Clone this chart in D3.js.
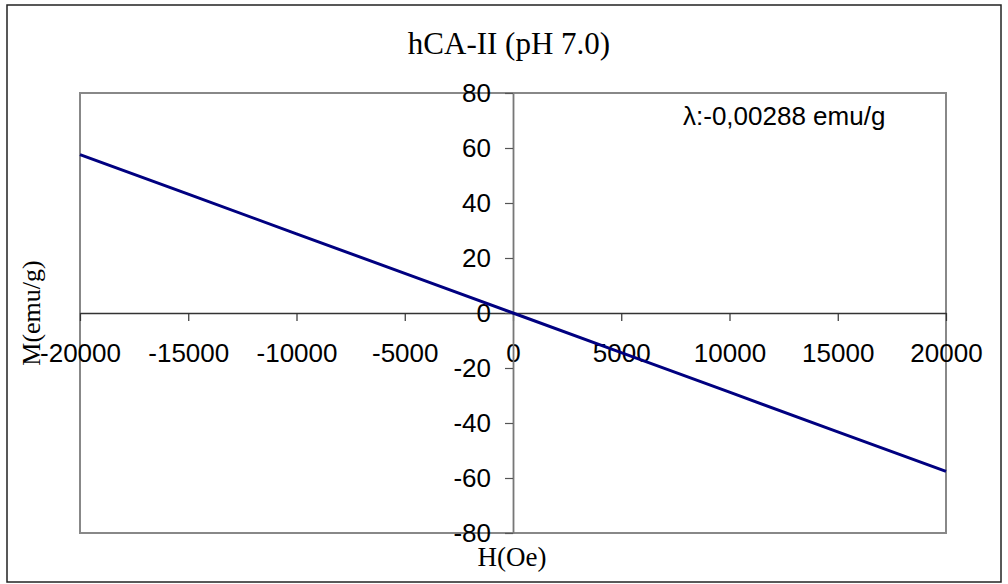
<!DOCTYPE html>
<html>
<head>
<meta charset="utf-8">
<script src="https://cdn.jsdelivr.net/npm/d3@7"></script>
<style>
  body { margin: 0; background: #fff; }
  svg { display: block; }
</style>
</head>
<body>
<svg id="chart" width="1008" height="584"></svg>
<script>
// field (Oe) and magnetisation (emu/g)
const fieldH = [-20000, -15000, -10000, -5000, 0, 5000, 10000, 15000, 20000];
const magM = [57.6, 43.2, 28.8, 14.4, 0, -14.4, -28.8, -43.2, -57.6];
const xTicks = [-20000, -15000, -10000, -5000, 0, 5000, 10000, 15000, 20000];
const yTicks = [-80, -60, -40, -20, 0, 20, 40, 60, 80];
const titleText = "hCA-II (pH 7.0)";
const noteText = "λ:-0,00288 emu/g";

const svg = d3.select("#chart");
const plot = {left: 80, top: 93, right: 946, bottom: 533};

let x = d3.scaleLinear().domain([-20000, 20000]).range([plot.left, plot.right]);
let y = d3.scaleLinear().domain([-80, 80]).range([plot.bottom, plot.top]);

// plain hyphen minus like the original
let fmt = d => String(d);

// outer frame
svg.append("rect")
    .attr("x", 7).attr("y", 5)
    .attr("width", 994).attr("height", 577)
    .attr("fill", "none")
    .attr("stroke", "#222")
    .attr("stroke-width", 1.5);

// plot area
svg.append("rect")
    .attr("x", plot.left).attr("y", plot.top)
    .attr("width", plot.right - plot.left).attr("height", plot.bottom - plot.top)
    .attr("fill", "none")
    .attr("stroke", "#888")
    .attr("stroke-width", 2);

// title
svg.append("text")
    .attr("x", 509).attr("y", 54)
    .attr("text-anchor", "middle")
    .style("font-family", "'Liberation Serif', 'Times New Roman', serif")
    .style("font-size", "31px")
    .text(titleText);

// x axis along M = 0
let xAxis = svg.append("g")
    .attr("transform", `translate(0,${y(0)})`)
    .call(d3.axisBottom(x).tickValues(xTicks).tickSize(8).tickSizeOuter(0).tickFormat(fmt));
xAxis.select(".domain").attr("stroke", "#333").attr("stroke-width", 1.5);
xAxis.selectAll(".tick line").attr("stroke", "#333").attr("stroke-width", 1.2);
xAxis.selectAll(".tick text")
    .attr("y", 0).attr("dy", null)
    .attr("transform", "translate(0,49)")
    .attr("fill", "#000")
    .style("font-family", "Arial, 'Liberation Sans', sans-serif")
    .style("font-size", "26px");

// y axis along H = 0
let yAxis = svg.append("g")
    .attr("transform", `translate(${x(0)},0)`)
    .call(d3.axisLeft(y).tickValues(yTicks).tickSize(8).tickSizeOuter(0).tickFormat(fmt));
yAxis.select(".domain").attr("stroke", "#777").attr("stroke-width", 1.8);
yAxis.selectAll(".tick line").attr("stroke", "#555").attr("stroke-width", 1.2);
yAxis.selectAll(".tick text")
    .attr("x", -22)
    .attr("fill", "#000")
    .style("font-family", "Arial, 'Liberation Sans', sans-serif")
    .style("font-size", "26px");

// data line
let line = d3.line()
    .x(d => x(d[0]))
    .y(d => y(d[1]));

svg.append("path")
    .datum(fieldH.map((h, i) => [h, magM[i]]))
    .attr("d", line)
    .attr("fill", "none")
    .attr("stroke", "#000080")
    .attr("stroke-width", 3);

// annotation
svg.append("text")
    .attr("x", 683).attr("y", 125)
    .style("font-family", "Arial, 'Liberation Sans', sans-serif")
    .style("font-size", "26px")
    .text(noteText);

// axis titles
svg.append("text")
    .attr("x", 512).attr("y", 566)
    .attr("text-anchor", "middle")
    .style("font-family", "'Liberation Serif', 'Times New Roman', serif")
    .style("font-size", "27px")
    .text("H(Oe)");

svg.append("text")
    .attr("transform", "translate(40,313) rotate(-90)")
    .attr("text-anchor", "middle")
    .style("font-family", "'Liberation Serif', 'Times New Roman', serif")
    .style("font-size", "26px")
    .text("M(emu/g)");
</script>
</body>
</html>
